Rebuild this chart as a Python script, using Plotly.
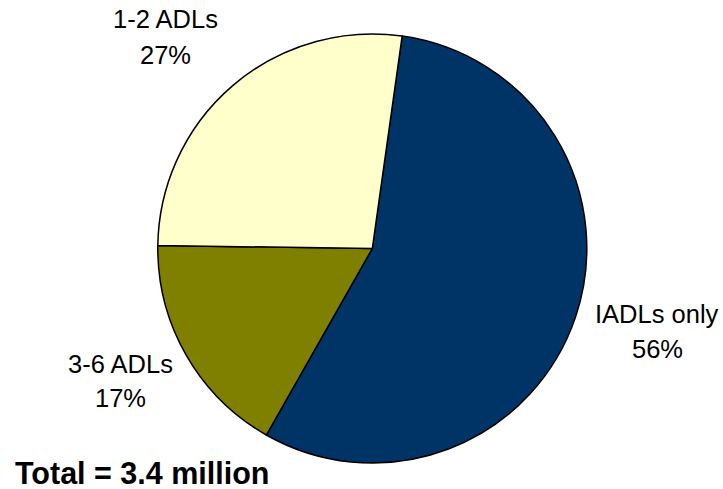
import plotly.graph_objects as go

# Share of people needing help, by type of limitation
categories = ["IADLs only", "3-6 ADLs", "1-2 ADLs"]
shares = [56, 17, 27]
colors = ["#003366", "#808000", "#FFFFCC"]
total_label = "Total = 3.4 million"

W, H = 723, 489
cx, cy, r = 372.3, 248.5, 214.5

fig = go.Figure(
    go.Pie(
        labels=categories,
        values=shares,
        sort=False,
        direction="clockwise",
        rotation=8,
        marker=dict(colors=colors, line=dict(color="#000000", width=1.5)),
        textinfo="none",
        hoverinfo="label+percent",
        showlegend=False,
        domain=dict(
            x=[(cx - r) / W, (cx + r) / W],
            y=[1 - (cy + r) / H, 1 - (cy - r) / H],
        ),
    )
)

# label positions (pixels): centre x, name line y, percent line y
label_pos = {
    "IADLs only": (657, 314, 349),
    "3-6 ADLs": (120, 363.5, 398),
    "1-2 ADLs": (165, 19.5, 55),
}

label_font = dict(family="Liberation Sans, Arial, sans-serif", size=25.5, color="#000000")

annotations = []
for name, val in zip(categories, shares):
    px, py1, py2 = label_pos[name]
    for txt, py in ((name, py1), (f"{val}%", py2)):
        annotations.append(
            dict(
                x=px / W, y=1 - py / H, xref="paper", yref="paper",
                xanchor="center", yanchor="middle",
                text=txt, showarrow=False, font=label_font,
            )
        )

annotations.append(
    dict(
        x=13 / W, y=1 - 473 / H, xref="paper", yref="paper",
        xanchor="left", yanchor="middle",
        text=f"<b>{total_label}</b>", showarrow=False,
        font=dict(family="Liberation Sans, Arial, sans-serif", size=30.5, color="#000000"),
    )
)

fig.update_layout(
    width=W, height=H,
    margin=dict(l=0, r=0, t=0, b=0),
    paper_bgcolor="#FFFFFF",
    plot_bgcolor="#FFFFFF",
    annotations=annotations,
)

fig.write_html("out.html")
